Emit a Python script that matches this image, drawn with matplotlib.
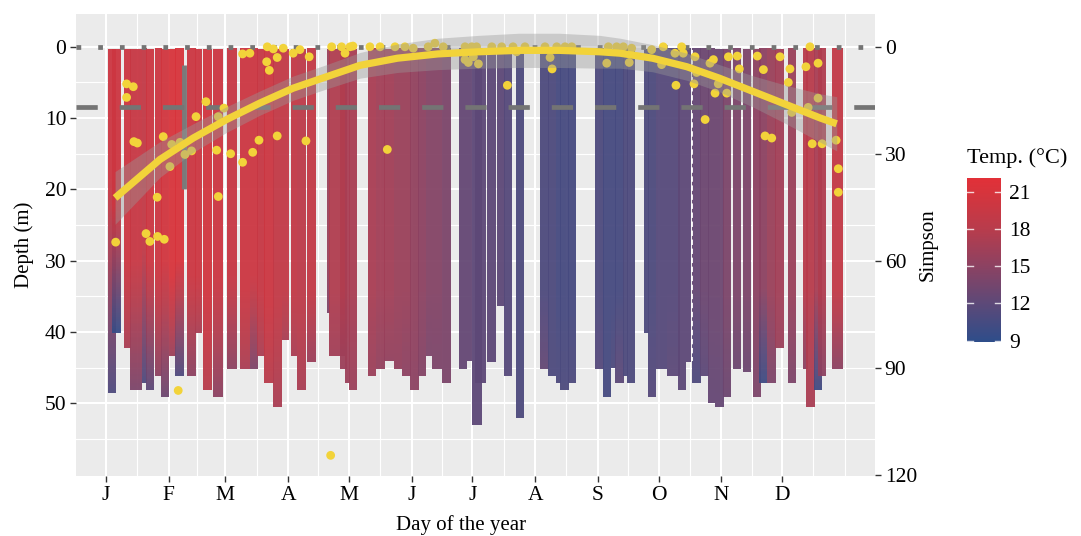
import numpy as np
import matplotlib
matplotlib.use("Agg")
import matplotlib.pyplot as plt
from matplotlib.colors import LinearSegmentedColormap, Normalize
from matplotlib.cm import ScalarMappable

plt.rcParams["font.family"] = ["Liberation Serif", "DejaVu Serif"]

# temperature profiles: day span, bottom depth, top / bottom temperature, depth where cooling starts
prof_d0 = [2.1, 3.8, 9.9, 12.9, 18.6, 20.8, 25.2, 28.2, 32.1, 35.1, 40.9, 45.0, 49.1, 54.0, 60.6,
           67.2, 72.1, 75.4, 79.1, 83.7, 88.0, 92.4, 95.2, 100.1, 110.0, 111.3, 116.6, 119.1, 121.2,
           130.6, 134.4, 138.5, 143.3, 147.1, 151.2, 155.3, 159.1, 161.9, 166.8, 175.4, 179.2, 181.6,
           183.3, 189.1, 194.0, 197.7, 203.6, 215.4, 219.5, 223.3, 225.3, 229.4, 242.6, 246.7, 250.3,
           252.5, 256.6, 258.6, 266.8, 268.9, 272.7, 278.0, 283.7, 287.6, 290.4, 294.5, 298.6, 301.9,
           306.0, 310.9, 315.9, 320.8, 323.8, 327.4, 331.5, 338.1, 345.2, 346.8, 350.8, 352.9, 359.6]
prof_d1 = [5.9, 7.9, 12.9, 18.6, 20.8, 24.7, 28.2, 32.1, 35.1, 39.2, 45.0, 48.0, 53.2, 58.6, 65.2,
           72.1, 75.8, 79.1, 83.7, 88.0, 91.1, 95.2, 99.3, 104.3, 111.3, 119.1, 119.6, 121.2, 124.8,
           134.4, 138.5, 143.0, 147.1, 151.2, 155.3, 159.1, 161.9, 166.8, 171.0, 179.2, 181.6, 186.1,
           188.3, 193.2, 197.7, 201.6, 207.5, 219.5, 223.3, 225.3, 229.4, 233.2, 246.7, 250.3, 252.5,
           256.6, 258.6, 262.4, 268.9, 272.7, 278.0, 284.2, 287.6, 289.7, 294.5, 298.6, 301.9, 306.0,
           309.6, 314.6, 319.7, 324.5, 327.4, 331.5, 335.6, 342.0, 347.2, 350.8, 354.7, 356.7, 364.6]
prof_bottom = [48.5, 40.1, 42.2, 48.1, 47.2, 48.1, 46.2, 49.1, 43.3, 46.2, 46.2, 40.1, 48.1, 49.1, 45.2,
               45.2, 45.2, 43.3, 47.2, 50.5, 41.1, 43.3, 48.1, 44.2, 37.3, 43.3, 45.2, 47.2, 48.1,
               46.2, 45.2, 44.0, 45.2, 46.2, 48.2, 46.2, 43.3, 45.2, 47.2, 45.2, 44.0, 53.1,
               47.2, 44.2, 36.3, 46.2, 52.0, 45.2, 46.2, 47.2, 48.2, 47.2, 45.2, 49.1, 45.0,
               47.2, 46.2, 47.2, 40.1, 49.1, 45.2, 46.2, 48.2, 44.2, 47.2, 46.2, 50.0, 50.5,
               49.1, 45.2, 45.6, 49.1, 47.2, 47.2, 42.2, 47.2, 45.2, 50.5, 48.2, 46.2, 45.2]
prof_t_top = [20.0, 20.0, 20.0, 19.5, 19.0, 20.0, 20.0, 20.5, 21.0, 21.0, 20.0, 20.0, 20.5, 20.0, 19.5,
              20.0, 20.0, 19.5, 20.0, 19.0, 19.0, 19.0, 18.5, 19.0, 16.0, 17.5, 17.5, 17.0, 17.0,
              17.0, 16.5, 16.5, 16.0, 16.0, 15.5, 15.0, 14.5, 14.5, 14.0, 12.5, 12.5, 12.0,
              12.0, 12.0, 12.0, 11.5, 11.0, 11.0, 11.0, 10.5, 10.5, 10.5, 11.0, 10.5, 10.5,
              10.5, 11.0, 11.0, 11.0, 11.0, 11.5, 11.5, 12.0, 12.0, 12.5, 13.0, 13.0, 13.0,
              14.0, 14.0, 14.0, 15.0, 15.0, 16.0, 16.5, 16.0, 18.0, 18.0, 17.0, 17.5, 19.0]
prof_t_bot = [11.0, 9.5, 17.0, 14.0, 11.0, 12.0, 15.0, 13.0, 16.0, 11.0, 15.0, 17.0, 18.0, 15.0, 15.0,
              17.0, 14.0, 17.0, 18.0, 17.0, 17.0, 17.0, 17.0, 16.0, 14.0, 16.5, 16.0, 16.0, 16.0,
              16.0, 15.5, 15.5, 15.5, 15.0, 15.0, 14.5, 14.0, 14.0, 14.0, 12.5, 12.5, 12.0,
              12.0, 12.0, 12.0, 11.5, 11.0, 12.5, 11.0, 11.0, 11.0, 11.0, 11.5, 10.5, 11.0,
              12.0, 11.0, 11.0, 11.0, 11.5, 11.5, 12.0, 12.0, 12.0, 11.0, 12.0, 12.5, 12.5,
              13.0, 13.0, 13.0, 14.0, 10.0, 14.0, 16.0, 14.0, 15.0, 17.0, 10.0, 15.0, 15.0]
prof_mix = [18, 22, 30, 30, 28, 30, 32, 30, 32, 30, 32, 32, 34, 32, 32,
            34, 32, 34, 36, 36, 34, 34, 36, 34, 30, 34, 34, 34, 34,
            34, 34, 34, 34, 34, 34, 34, 34, 34, 34, 34, 34, 34,
            34, 34, 30, 34, 34, 34, 34, 34, 34, 34, 34, 34, 34,
            34, 34, 34, 34, 34, 34, 34, 34, 34, 34, 34, 34, 34,
            34, 34, 34, 34, 34, 34, 34, 34, 34, 34, 34, 34, 34]
surface_depth = 0.3

# Simpson index samples (day of year, Simpson)
pt_day = [5.8, 11.2, 14.5, 11.2, 14.8, 16.5, 20.8, 22.7, 26.5, 29.8, 26.3, 29.3, 33.5, 37.6, 32.6,
          40.0, 43.3, 45.5, 50.4, 56.5, 59.3, 55.7, 56.5, 62.6, 68.5, 73.5, 76.6, 85.6, 99.8, 68.5,
          72.1, 80.4, 81.7, 80.7, 83.7, 88.6, 85.6, 93.5, 96.8, 101.4, 112.5, 117.4, 121.6, 119.1,
          36.7, 112.0, 123.0, 131.4, 136.4, 143.8, 148.7, 152.8, 160.2, 163.5, 167.6, 178.4, 181.7,
          184.1, 178.4, 180.0, 185.0, 182.5, 191.6, 196.5, 202.1, 208.0, 203.9, 199.3, 140.0, 217.9,
          223.7, 227.8, 231.1, 220.4, 221.4, 248.4, 249.2, 253.3, 256.6, 260.7, 259.5, 270.6, 276.3,
          275.5, 282.1, 285.4, 286.2, 282.6, 292.0, 292.8, 291.5, 297.0, 299.4, 301.1, 301.9, 307.7,
          303.5, 308.5, 312.9, 313.9, 322.8, 325.8, 334.0, 338.9, 338.1, 339.8, 326.6, 329.9, 346.8,
          352.8, 348.8, 352.8, 347.9, 349.9, 354.8, 361.7, 362.8, 362.8]
pt_simpson = [54.8, 10.4, 11.2, 14.2, 26.6, 27.0, 52.4, 54.6, 53.2, 54.0, 42.2, 25.2, 27.4, 26.8, 33.6,
              30.2, 29.2, 19.6, 15.4, 19.6, 17.2, 29.0, 42.0, 30.0, 32.4, 29.6, 26.2, 25.0, 26.4, 2.0,
              1.8, 4.2, 6.6, 0.0, 0.6, 0.4, 3.0, 1.8, 0.8, 2.8, 0.0, 0.0, 0.0, 1.8,
              96.4, 114.6, -0.2, 0.0, 0.0, 0.0, 0.0, 0.4, 0.0, -1.0, 0.0, 0.0, 0.0,
              0.0, 3.6, 4.4, 4.8, 2.8, 0.0, 0.0, 0.0, 0.0, 1.4, 10.8, 28.8, 0.0,
              0.0, 0.0, 0.0, 3.0, 6.2, 4.6, 0.0, 0.0, 0.0, 0.4, 4.4, 0.8, 0.0,
              5.0, 1.8, 0.0, 1.8, 10.8, 2.8, 7.2, 10.4, 20.4, 4.6, 3.6, 13.0, 13.0,
              10.4, 2.8, 2.6, 6.2, 2.6, 6.4, 2.8, 6.2, 10.0, 18.4, 25.0, 25.6, 5.6,
              4.6, 0.0, 14.4, 17.0, 27.2, 27.2, 26.2, 34.2, 40.8]

# loess fit of Simpson with its confidence band
fit_day = [5.5, 27.7, 44.1, 60.6, 77.0, 93.5, 110.0, 126.5, 145, 165, 185, 205, 225, 245, 255,
           271, 288, 304, 321, 337, 354, 362]
fit_simpson = [42.4, 31.6, 25.6, 20.4, 15.8, 11.6, 8.4, 5.2, 3.2, 2.0, 1.4, 1.0, 1.0, 1.4, 1.8,
               3.2, 5.6, 8.8, 12.6, 16.2, 20.0, 21.6]
fit_se = [7.4, 5.0, 4.0, 3.6, 3.4, 3.4, 3.4, 3.6, 4.0, 4.4, 4.6, 4.8, 4.8, 4.6, 4.2,
          3.8, 3.8, 3.8, 4.4, 5.4, 6.8, 7.6]

mixed_layer_depth = 8.5
grey_seg_day, grey_seg_top, grey_seg_bottom = 39.4, 2.5, 20.0
gap_day, gap_top, gap_bottom = 290.4, 0.5, 44.0

month_days = [1, 32, 60, 91, 121, 152, 182, 213, 244, 274, 305, 335]
month_labels = ["J", "F", "M", "A", "M", "J", "J", "A", "S", "O", "N", "D"]
temp_ticks = [9, 12, 15, 18, 21]

cmap = LinearSegmentedColormap.from_list("temp", [
    (0.0, "#2E4D8A"), (0.235, "#5D4978"), (0.462, "#8C4262"),
    (0.689, "#B83C4C"), (0.917, "#D7343C"), (1.0, "#E23038")])
norm = Normalize(8.9, 22.1)

fig = plt.figure(figsize=(10.81, 5.36), dpi=100)
ax = fig.add_axes([0.0703, 0.1119, 0.7391, 0.862])
ax.set_facecolor("#EBEBEB")

# grid
minor_days = [(a + b) / 2 for a, b in zip(month_days, month_days[1:] + [366])] + [366]
for d in month_days:
    ax.axvline(d, color="white", lw=1.5, zorder=0)
for d in minor_days:
    ax.axvline(d, color="white", lw=0.8, zorder=0)
for y in range(0, 60, 10):
    ax.axhline(y, color="white", lw=1.5, zorder=0)
for y in range(5, 60, 10):
    ax.axhline(y, color="white", lw=0.8, zorder=0)

# profiles
for d0, d1, bot, tt, tb, mix in zip(prof_d0, prof_d1, prof_bottom, prof_t_top, prof_t_bot, prof_mix):
    z = np.arange(surface_depth, bot, 0.25)
    t = np.interp(z, [surface_depth, mix, bot], [tt, tt, tb])
    ax.imshow(t[:, None], extent=(d0, d1, bot, surface_depth), origin="upper", cmap=cmap,
              norm=norm, aspect="auto", interpolation="nearest", alpha=0.95, zorder=2)

ax.plot([gap_day, gap_day], [gap_top, gap_bottom], color="white", lw=1.3,
        dashes=(3, 2), zorder=2.5)
ax.plot([grey_seg_day, grey_seg_day], [grey_seg_top, grey_seg_bottom], color="#7A7A7A",
        lw=3.5, solid_capstyle="butt", zorder=2.5)

# reference lines
ax.axhline(0, color="#747474", lw=3.4, dashes=(1.0, 3.6), zorder=3)
ax.axhline(mixed_layer_depth, color="#747474", lw=3.4, dashes=(4.5, 4.65), zorder=3)

# Simpson points, band and fit
ax.scatter(pt_day, np.array(pt_simpson) / 2, s=40, color="#F2D33A", edgecolors="none", zorder=4)
fit_y = np.array(fit_simpson) / 2
fit_e = np.array(fit_se) / 2
ax.fill_between(fit_day, fit_y - fit_e, fit_y + fit_e, color="#999999", alpha=0.4, lw=0, zorder=5)
ax.plot(fit_day, fit_y, color="#F2D33A", lw=5.2, solid_capstyle="butt", zorder=6)

ax.set_xlim(-13.8, 380.9)
ax.set_ylim(60.2, -4.6)
for s in ax.spines.values():
    s.set_visible(False)

ax.set_xticks(month_days)
ax.set_xticklabels(month_labels)
ax.set_yticks(range(0, 60, 10))
ax.tick_params(axis="both", colors="#333333", length=4, width=1, labelsize=15.5,
               labelcolor="black", pad=3)
ax.set_xlabel("Day of the year", fontsize=15, labelpad=4)
ax.xaxis.set_label_coords(0.482, -0.085)
ax.set_ylabel("Depth (m)", fontsize=15, labelpad=8)

sec = ax.secondary_yaxis("right", functions=(lambda d: d * 2, lambda s: s / 2))
sec.set_yticks([0, 30, 60, 90, 120])
sec.tick_params(colors="#333333", length=4, width=1, labelsize=15.5, labelcolor="black", pad=3)
sec.spines["right"].set_visible(False)
sec.set_ylabel("Simpson", fontsize=15, labelpad=1)

# legend colourbar
cax = fig.add_axes([0.8945, 0.362, 0.0315, 0.306])
cb = fig.colorbar(ScalarMappable(norm=norm, cmap=cmap), cax=cax)
cb.set_ticks(temp_ticks)
cb.outline.set_visible(False)
cax.tick_params(length=0, labelsize=15.5, pad=6)
for v in temp_ticks:
    cax.axhline(v, xmin=0, xmax=0.18, color="white", lw=1, alpha=0.8)
    cax.axhline(v, xmin=0.82, xmax=1, color="white", lw=1, alpha=0.8)
fig.text(0.8945, 0.705, "Temp. (°C)", fontsize=16, va="center", ha="left")

fig.savefig("out.png", dpi=100)
